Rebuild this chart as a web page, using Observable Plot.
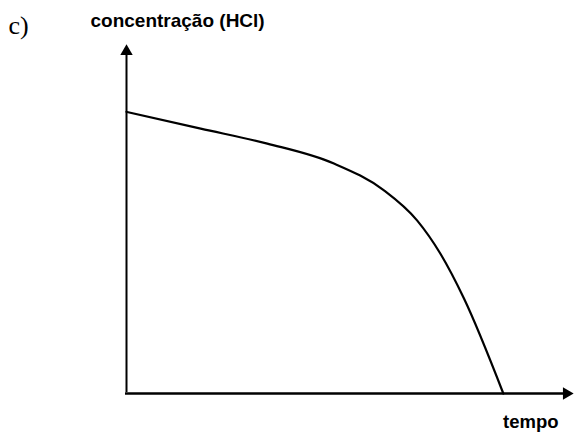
<!DOCTYPE html>
<html>
<head>
<meta charset="utf-8">
<script src="https://cdn.jsdelivr.net/npm/d3@7"></script>
<script src="https://cdn.jsdelivr.net/npm/@observablehq/plot@0.6"></script>
<style>
  html, body { margin: 0; padding: 0; background: #fff; }
</style>
</head>
<body>
<div id="chart"></div>
<script>
// Data
const time = [0, 16.6, 31.5, 46.4, 57.6, 65.0, 70.2, 75.5, 84.3];
const conc = [80.7, 75.9, 71.6, 65.9, 58.2, 49.6, 40.1, 27.2, 0];
const timeDomain = [0, 100];
const concDomain = [0, 100];
const panelLabel = ["c)"];
const yLabel = ["concentração (HCl)"];
const xLabel = ["tempo"];

const points = time.map((t, i) => ({t, c: conc[i]}));

const chart = Plot.plot({
  width: 575,
  height: 436,
  marginLeft: 126,
  marginRight: 2,
  marginTop: 44,
  marginBottom: 43,
  style: {background: "#fff", overflow: "visible"},
  x: {domain: timeDomain, axis: null},
  y: {domain: concDomain, axis: null},
  marks: [
    // axes lines
    Plot.ruleX([timeDomain[0]], {y1: concDomain[1], y2: concDomain[0], stroke: "#000", strokeWidth: 2, insetTop: 6, insetBottom: 1}),
    Plot.ruleY([concDomain[0]], {x1: timeDomain[0], x2: timeDomain[1], stroke: "#000", strokeWidth: 2.5, insetRight: 6, insetLeft: -1}),
    // arrowheads
    Plot.dot([{x: timeDomain[0], y: concDomain[1]}], {x: "x", y: "y", symbol: "triangle", r: 4.6, fill: "#000", stroke: "none", dy: 7}),
    Plot.dot([{x: timeDomain[1], y: concDomain[0]}], {x: "x", y: "y", symbol: "triangle", r: 4.6, fill: "#000", stroke: "none", rotate: 90, dx: -7}),
    // curve
    Plot.line(points, {x: "t", y: "c", curve: "monotone-x", stroke: "#000", strokeWidth: 2.2}),
    // texts
    Plot.text(panelLabel, {text: d => d, frameAnchor: "top-left", textAnchor: "start", lineAnchor: "bottom", dx: -118, dy: -10.5, fontSize: 26, fontFamily: "Liberation Serif", fill: "#000"}),
    Plot.text(yLabel, {text: d => d, frameAnchor: "top-left", textAnchor: "start", lineAnchor: "bottom", dx: -36, dy: -17.5, fontSize: 19, fontWeight: "bold", fontFamily: "Liberation Sans", fill: "#000", style: "letter-spacing:0.4px"}),
    Plot.text(xLabel, {text: d => d, frameAnchor: "bottom-right", textAnchor: "end", lineAnchor: "bottom", dx: -15, dy: 34.7, fontSize: 18.5, fontWeight: "bold", fontFamily: "Liberation Sans", fill: "#000"})
  ]
});
document.getElementById("chart").appendChild(chart);
</script>
</body>
</html>
